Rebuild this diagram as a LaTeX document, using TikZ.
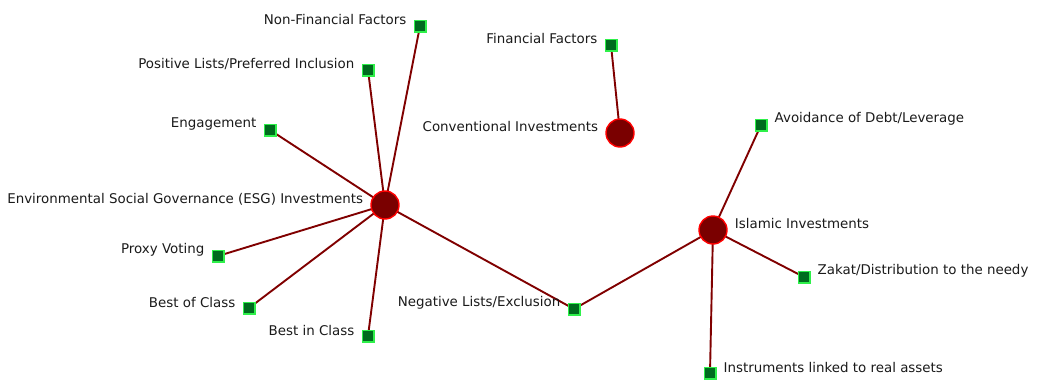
\documentclass[tikz,border=0pt]{standalone}
\usepackage{fontspec}
\setmainfont{DejaVu Sans}
\usetikzlibrary{backgrounds}

\definecolor{edgered}{HTML}{800000}
\definecolor{hubfill}{HTML}{7A0000}
\definecolor{leaffill}{HTML}{006B1E}
\definecolor{leafline}{HTML}{2EF04A}
\definecolor{txt}{HTML}{1A1A1A}

\tikzset{
	hub/.style={circle,fill=hubfill,draw=red,line width=1.4pt,minimum size=28pt,inner sep=0pt},
	leaf/.style={rectangle,fill=leaffill,draw=leafline,line width=1.5pt,minimum size=11.5pt,inner sep=0pt},
	lbl/.style={text=txt,font=\fontsize{13.4}{15}\selectfont,inner sep=0pt,yshift=6pt,label distance=7pt},
	link/.style={draw=edgered,line width=1.9pt}
}

\begin{document}
\begin{tikzpicture}[x=1pt,y=-1pt]
	\useasboundingbox (0,0) rectangle (1041,383);

	\node[hub] (esg) at (385,205) [label={[lbl]left:Environmental Social Governance (ESG) Investments}] {};
	\node[hub] (conv) at (620,133) [label={[lbl]left:Conventional Investments}] {};
	\node[hub] (isl) at (713,230) [label={[lbl]right:Islamic Investments}] {};

	\node[leaf] (nonfin) at (420,26) [label={[lbl]left:Non-Financial Factors}] {};
	\node[leaf] (poslist) at (368,70) [label={[lbl]left:Positive Lists/Preferred Inclusion}] {};
	\node[leaf] (engage) at (270,130) [label={[lbl]left:Engagement}] {};
	\node[leaf] (fin) at (611,45) [label={[lbl]left:Financial Factors}] {};
	\node[leaf] (proxy) at (218,256) [label={[lbl]left:Proxy Voting}] {};
	\node[leaf] (bestof) at (249,308) [label={[lbl]left:Best of Class}] {};
	\node[leaf] (bestin) at (368,336) [label={[lbl]left:Best in Class}] {};
	\node[leaf] (neglist) at (574,309) [label={[lbl]left:Negative Lists/Exclusion}] {};
	\node[leaf] (debt) at (761,125) [label={[lbl]right:Avoidance of Debt/Leverage}] {};
	\node[leaf] (zakat) at (804,277) [label={[lbl]right:Zakat/Distribution to the needy}] {};
	\node[leaf] (real) at (710,373) [label={[lbl]right:Instruments linked to real assets}] {};

	\begin{pgfonlayer}{background}
		\draw[link] (esg.center) -- (nonfin.center);
		\draw[link] (esg.center) -- (poslist.center);
		\draw[link] (esg.center) -- (engage.center);
		\draw[link] (esg.center) -- (proxy.center);
		\draw[link] (esg.center) -- (bestof.center);
		\draw[link] (esg.center) -- (bestin.center);
		\draw[link] (esg.center) -- (neglist.center);
		\draw[link] (neglist.center) -- (isl.center);
		\draw[link] (isl.center) -- (debt.center);
		\draw[link] (isl.center) -- (zakat.center);
		\draw[link] (isl.center) -- (real.center);
		\draw[link] (conv.center) -- (fin.center);
	\end{pgfonlayer}
\end{tikzpicture}
\end{document}
